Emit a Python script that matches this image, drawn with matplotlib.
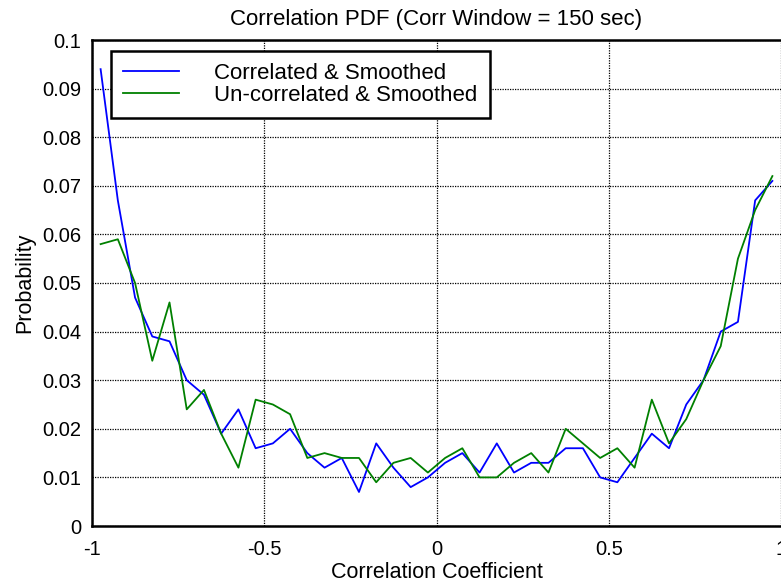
import numpy as np
import matplotlib
matplotlib.use("Agg")
import matplotlib.pyplot as plt

plt.rcParams['font.family'] = ['Liberation Sans', 'DejaVu Sans']

bin_centers = np.round(np.arange(-0.975, 1.0, 0.05), 3)
correlated = [0.094, 0.067, 0.047, 0.039, 0.038, 0.030, 0.027, 0.019, 0.024, 0.016,
              0.017, 0.020, 0.015, 0.012, 0.014, 0.007, 0.017, 0.012, 0.008, 0.010,
              0.013, 0.015, 0.011, 0.017, 0.011, 0.013, 0.013, 0.016, 0.016, 0.010,
              0.009, 0.014, 0.019, 0.016, 0.025, 0.030, 0.040, 0.042, 0.067, 0.071]
uncorrelated = [0.058, 0.059, 0.050, 0.034, 0.046, 0.024, 0.028, 0.019, 0.012, 0.026,
                0.025, 0.023, 0.014, 0.015, 0.014, 0.014, 0.009, 0.013, 0.014, 0.011,
                0.014, 0.016, 0.010, 0.010, 0.013, 0.015, 0.011, 0.020, 0.017, 0.014,
                0.016, 0.012, 0.026, 0.017, 0.022, 0.030, 0.037, 0.055, 0.065, 0.072]
x_ticks = [-1, -0.5, 0, 0.5, 1]
x_tick_labels = ['-1', '-0.5', '0', '0.5', '1']
y_ticks = [0, 0.01, 0.02, 0.03, 0.04, 0.05, 0.06, 0.07, 0.08, 0.09, 0.1]
y_tick_labels = ['0', '0.01', '0.02', '0.03', '0.04', '0.05', '0.06', '0.07', '0.08', '0.09', '0.1']

fig = plt.figure(figsize=(7.81, 5.88), dpi=100)
ax = fig.add_axes([92/781, 62/588, 689/781, 486/588])

ax.plot(bin_centers, correlated, color=(0, 0, 1), lw=1.3, label='Correlated & Smoothed')
ax.plot(bin_centers, uncorrelated, color=(0, 0.5, 0), lw=1.3, label='Un-correlated & Smoothed')

ax.set_xlim(-1, 1)
ax.set_ylim(0, 0.1)
ax.set_xticks(x_ticks)
ax.set_xticklabels(x_tick_labels)
ax.set_yticks(y_ticks)
ax.set_yticklabels(y_tick_labels)
ax.grid(True, color='black', linestyle=(0, (1, 1)), linewidth=0.9)
ax.tick_params(direction='in', length=0, labelsize=14.5, top=False, right=False)
ax.tick_params(axis='x', pad=10)
ax.tick_params(axis='y', pad=7.5)
for s in ax.spines.values():
    s.set_linewidth(1.8)
ax.spines['right'].set_visible(False)

ax.set_title('Correlation PDF (Corr Window = 150 sec)', fontsize=16, pad=10.5)
ax.set_xlabel('Correlation Coefficient', fontsize=15.5, labelpad=2)
ax.set_ylabel('Probability', fontsize=15.5, labelpad=5)

leg = ax.legend(loc='upper left', bbox_to_anchor=(19/689, 1 - 11/486), borderaxespad=0,
                fontsize=16, handlelength=2.52, handletextpad=1.58, labelspacing=0.02,
                fancybox=False, framealpha=1, edgecolor='black', borderpad=0.55)
leg.get_frame().set_linewidth(1.8)

fig.savefig('out.png', dpi=100)
